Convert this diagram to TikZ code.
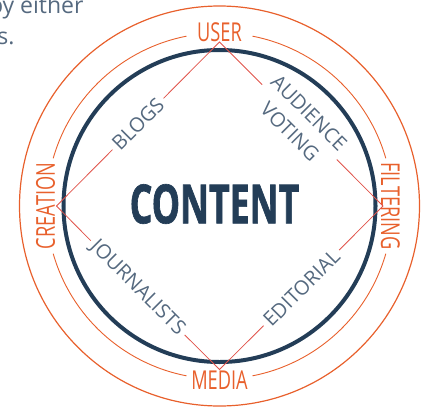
\documentclass[tikz,border=0pt]{standalone}
\usepackage{fontspec}
\setmainfont{Open Sans}
\newfontfamily\narrowfont[FakeStretch=0.7]{Open Sans}
\newfontfamily\narrowbold[FakeStretch=0.66, BoldFeatures={FakeBold=1.2}]{Open Sans}
\definecolor{navy}{HTML}{233D57}
\definecolor{flame}{HTML}{E8602C}
\definecolor{rust}{HTML}{E0534A}
\definecolor{slate}{HTML}{55697F}
\tikzset{
  ringlabel/.style={text=flame, inner sep=0pt, font=\narrowfont\fontsize{26}{26}\selectfont},
  routelabel/.style={text=slate, inner sep=4pt, align=center, font=\fontsize{20}{27}\selectfont},
  route/.style={draw=rust, line width=0.8pt}
}
\begin{document}
\begin{tikzpicture}[x=1pt, y=1pt]
  % General frame is (-219.5,-204) to (207.5,206), circles centred at (0,0)
  \useasboundingbox (-219.5,-204) rectangle (207.5,206);

  % cut-off text of the page
  \node[anchor=base east, text=slate, font=\fontsize{23}{23}\selectfont] (txta) at (-132.5,192) {by either};
  \node[anchor=base east, text=slate, font=\fontsize{23}{23}\selectfont] (txtb) at (-201.5,161) {rs.};

  % outer circle
  \draw[flame, line width=1.2pt] (0,0) circle (200);

  % middle ring, broken by the labels
  \foreach \a/\b in {16/79, 101/164, 196/259, 281/344}
    \draw[flame, line width=0.9pt] (\a:173) arc (\a:\b:173);

  % content circle
  \draw[navy, line width=4pt] (0,0) circle (156);
  \node[text=navy, font=\narrowbold\bfseries\fontsize{54}{54}\selectfont] (content) at (-5,2) {CONTENT};

  % ring labels
  \node[ringlabel] (user) at (90:173.5) {USER};
  \node[ringlabel, rotate=-90] (filter) at (0:171) {FILTERING};
  \node[ringlabel] (media) at (270:174) {MEDIA};
  \node[ringlabel, rotate=90] (create) at (180:174) {CREATION};

  % diamond corners
  \coordinate (vtop) at (90:164);
  \coordinate (vright) at (0:163.5);
  \coordinate (vbottom) at (270:163.5);
  \coordinate (vleft) at (180:163);

  % routes
  \node[routelabel, rotate=45] (blogs) at (-81.5,82) {BLOGS};
  \node[routelabel, rotate=-45] (voting) at (80,84) {AUDIENCE\\VOTING};
  \node[routelabel, rotate=-45] (journo) at (-82,-82) {JOURNALISTS};
  \node[routelabel, rotate=45] (edit) at (82,-82) {EDITORIAL};

  \draw[route] (vleft) -- (blogs) -- (vtop) -- (voting) -- (vright);
  \draw[route] (vleft) -- (journo) -- (vbottom) -- (edit) -- (vright);

\end{tikzpicture}
\end{document}
